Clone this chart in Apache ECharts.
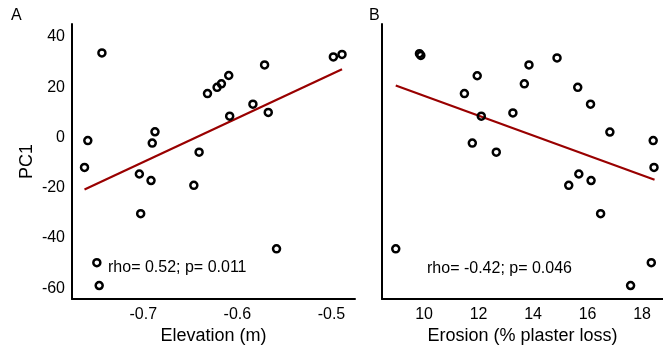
<!DOCTYPE html>
<html>
<head>
<meta charset="utf-8">
<script src="https://cdn.jsdelivr.net/npm/echarts@6/dist/echarts.min.js"></script>
<style>
  html, body { margin: 0; padding: 0; background: #fff; }
  #chart { width: 663px; height: 350px; }
</style>
</head>
<body>
<div id="chart"></div>
<script>
// panel A: elevation vs PC1
const elevation = [-0.744, -0.759, -0.7625, -0.6905, -0.6876, -0.6407, -0.6318, -0.6216, -0.617, -0.6092, -0.6082, -0.5835,
  -0.5711, -0.5672, -0.498, -0.4888, -0.7042, -0.6918, -0.6463, -0.7028, -0.5584, -0.7494, -0.7469]
const pc1A = [33.7, -1.2, -11.9, -2.2, 2.3, -5.8, 17.5, 20.0, 21.4, 24.7, 8.5, 13.3,
  28.9, 10.0, 32.1, 33.1, -14.5, -17.1, -19.0, -30.3, -44.3, -49.8, -58.9]
const fitAx = [-0.7625, -0.4888]
const fitAy = [-20.7, 27.2]

// panel B: erosion vs PC1
const erosion = [9.83, 9.88, 11.95, 11.48, 12.10, 11.77, 12.65, 13.85, 13.68, 13.26, 14.88, 15.64,
  16.11, 16.82, 18.41, 18.44, 15.31, 15.68, 16.13, 16.48, 8.96, 18.34, 17.58]
const pc1B = [33.4, 32.7, 24.6, 17.5, 8.5, -2.2, -5.8, 28.9, 21.4, 9.8, 31.7, 20.0,
  13.3, 2.2, -1.2, -11.9, -19.0, -14.5, -17.1, -30.3, -44.3, -49.8, -58.9]
const fitBx = [8.96, 18.46]
const fitBy = [20.7, -16.8]

const yTicks = [-60, -40, -20, 0, 20, 40]
const xTicksA = [-0.7, -0.6, -0.5]
const xTicksB = [10, 12, 14, 16, 18]

const statsA = 'rho= 0.52; p= 0.011'
const statsB = 'rho= -0.42; p= 0.046'

const FONT = 'Liberation Sans, Arial, sans-serif'
const pairs = (xs, ys) => xs.map((x, i) => [x, ys[i]])

const chart = echarts.init(document.getElementById('chart'))

const axisLine = { show: true, onZero: false, lineStyle: { color: '#000', width: 2 } }
const label = { color: '#000', fontSize: 16, fontFamily: FONT }

const xAxisBase = {
  type: 'value',
  axisLine: axisLine,
  axisTick: { show: false },
  splitLine: { show: false },
  nameLocation: 'middle',
  nameGap: 24,
  nameTextStyle: { color: '#000', fontSize: 18, fontFamily: FONT }
}
const yAxisBase = {
  type: 'value',
  min: -64.3,
  max: 45.2,
  axisLine: axisLine,
  axisTick: { show: false },
  splitLine: { show: false }
}

const scatterStyle = {
  color: 'rgba(0,0,0,0)',
  borderColor: '#000',
  borderWidth: 2.5,
  opacity: 1
}

const option = {
  backgroundColor: '#fff',
  animation: false,
  grid: [
    { left: 72, right: 308, top: 24, bottom: 43 },
    { left: 382, right: 0, top: 24, bottom: 43 }
  ],
  xAxis: [
    Object.assign({}, xAxisBase, {
      gridIndex: 0,
      min: -0.7758,
      max: -0.475,
      name: 'Elevation (m)',
      axisLabel: Object.assign({}, label, {
        margin: 7,
        customValues: xTicksA,
        formatter: v => v.toFixed(1)
      })
    }),
    Object.assign({}, xAxisBase, {
      gridIndex: 1,
      min: 8.455,
      max: 18.77,
      name: 'Erosion (% plaster loss)',
      axisLabel: Object.assign({}, label, { margin: 7, customValues: xTicksB })
    })
  ],
  yAxis: [
    Object.assign({}, yAxisBase, {
      gridIndex: 0,
      name: 'PC1',
      nameLocation: 'middle',
      nameGap: 36,
      nameTextStyle: { color: '#000', fontSize: 18, fontFamily: FONT },
      axisLabel: Object.assign({}, label, { margin: 7, customValues: yTicks })
    }),
    Object.assign({}, yAxisBase, {
      gridIndex: 1,
      axisLabel: { show: false }
    })
  ],
  graphic: [
    { type: 'text', left: 11, top: 8, style: { text: 'A', fontSize: 16, fontFamily: FONT, fill: '#000' } },
    { type: 'text', left: 369, top: 8, style: { text: 'B', fontSize: 16, fontFamily: FONT, fill: '#000' } },
    { type: 'text', left: 108, top: 260, style: { text: statsA, fontSize: 16, fontFamily: FONT, fill: '#000' } },
    { type: 'text', left: 427, top: 261, style: { text: statsB, fontSize: 16, fontFamily: FONT, fill: '#000' } }
  ],
  series: [
    {
      type: 'line',
      xAxisIndex: 0,
      yAxisIndex: 0,
      data: pairs(fitAx, fitAy),
      showSymbol: false,
      lineStyle: { color: '#990000', width: 2.2 },
      z: 2
    },
    {
      type: 'scatter',
      xAxisIndex: 0,
      yAxisIndex: 0,
      data: pairs(elevation, pc1A),
      symbol: 'circle',
      symbolSize: 7,
      itemStyle: scatterStyle,
      z: 3
    },
    {
      type: 'line',
      xAxisIndex: 1,
      yAxisIndex: 1,
      data: pairs(fitBx, fitBy),
      showSymbol: false,
      lineStyle: { color: '#990000', width: 2.2 },
      z: 2
    },
    {
      type: 'scatter',
      xAxisIndex: 1,
      yAxisIndex: 1,
      data: pairs(erosion, pc1B),
      symbol: 'circle',
      symbolSize: 7,
      itemStyle: scatterStyle,
      z: 3
    }
  ]
}

chart && chart.setOption(option)
</script>
</body>
</html>
